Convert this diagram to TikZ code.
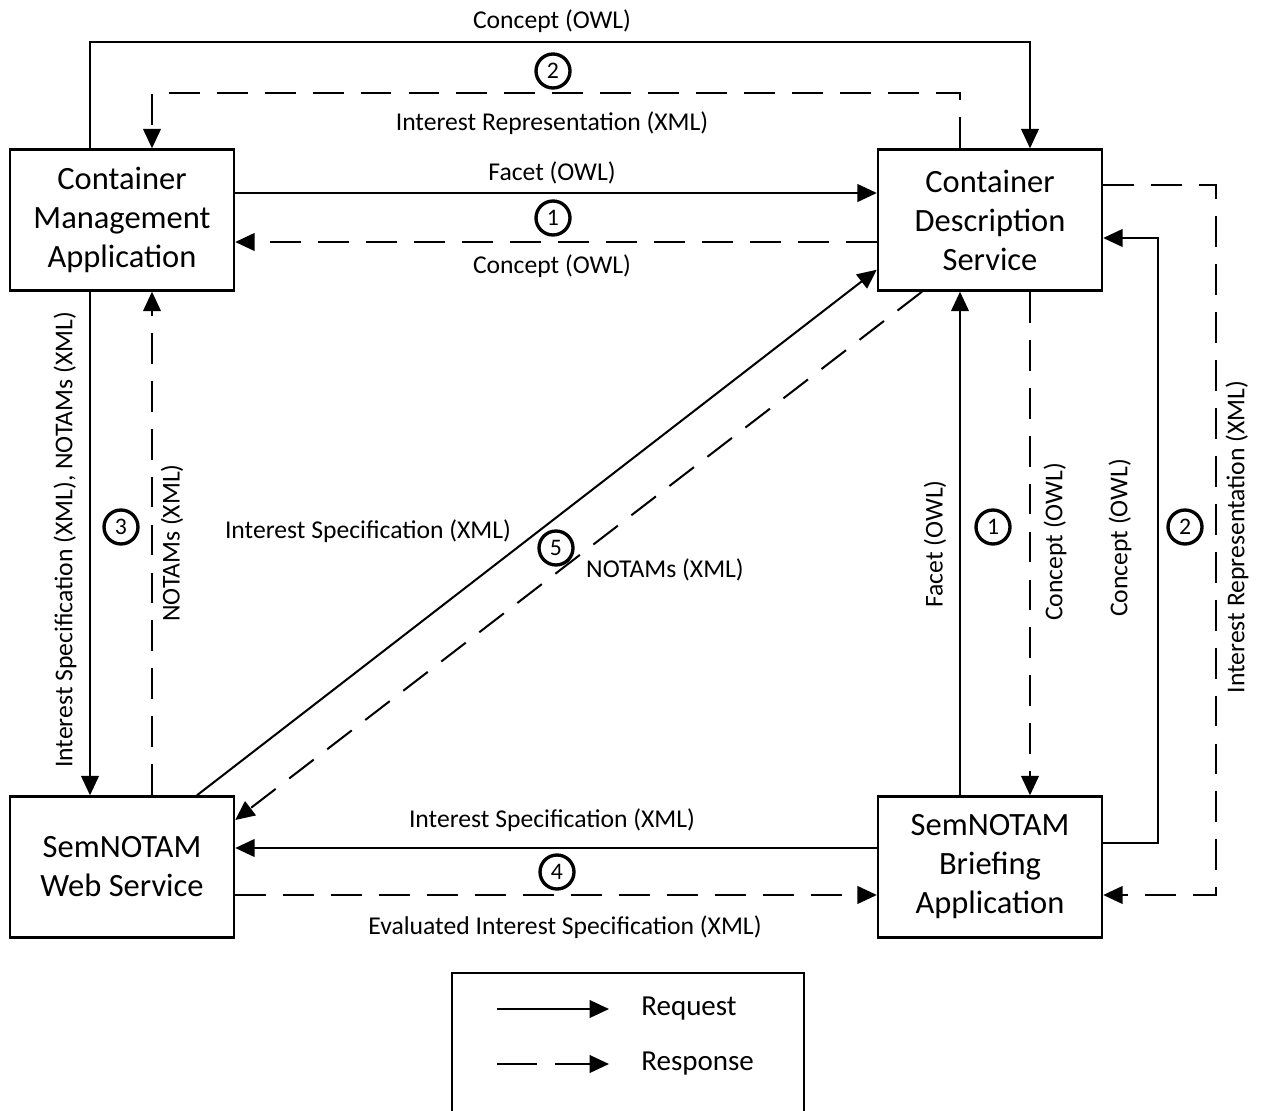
\documentclass[tikz,border=0pt]{standalone}
\usepackage{fontspec}
\setmainfont{Carlito}
\usetikzlibrary{arrows.meta}
\begin{document}
\begin{tikzpicture}[x=0.02cm,y=-0.02cm,
  box/.style={draw, line width=1.4pt, minimum width=4.48cm, minimum height=2.82cm,
    align=center, inner sep=0pt, font=\fontsize{18.5}{22.2}\selectfont},
  lbl/.style={font=\fontsize{14.6}{17}\selectfont, inner sep=1pt},
  num/.style={circle, draw, line width=1.9pt, minimum size=0.68cm, inner sep=0pt,
    fill=white, font=\fontsize{13.5}{15}\selectfont},
  req/.style={line width=1.15pt, -{Triangle[length=11pt,width=10pt]}},
  resp/.style={req, dash pattern=on 17.6pt off 9.7pt},
  legtxt/.style={font=\fontsize{16.5}{19}\selectfont, anchor=west, inner sep=0pt}]
\useasboundingbox (0,0) rectangle (1261,1111);
\node[box] (CMA) at (122,220) {Container\\Management\\Application};
\node[box] (CDS) at (990,220) {Container\\Description\\Service};
\node[box] (SWS) at (122,867) {SemNOTAM\\Web Service};
\node[box] (SBA) at (990,867) {SemNOTAM\\Briefing\\Application};

% top loop
\draw[req] ([xshift=-0.64cm]CMA.north) -- ++(0,-106) -| ([xshift=0.8cm]CDS.north);
\draw[resp] ([xshift=-0.6cm]CDS.north) -- ++(0,-55) -| ([xshift=0.6cm]CMA.north);
\node[lbl] (t1) at (552,21) {Concept (OWL)};
\node[lbl] (t2) at (552,123) {Interest Representation (XML)};
\node[num] (n2a) at (553,71) {2};

% CMA <-> CDS
\draw[req] ([yshift=0.54cm]CMA.east) -- ([yshift=0.54cm]CDS.west);
\draw[resp] ([yshift=-0.44cm]CDS.west) -- ([yshift=-0.44cm]CMA.east);
\node[lbl] (t3) at (552,173) {Facet (OWL)};
\node[lbl] (t4) at (552,266) {Concept (OWL)};
\node[num] (n1a) at (553,218) {1};

% CMA <-> SWS
\draw[req] ([xshift=-0.64cm]CMA.south) -- ([xshift=-0.64cm]SWS.north);
\draw[resp] ([xshift=0.6cm]SWS.north) -- ([xshift=0.6cm]CMA.south);
\node[lbl, rotate=90] (t5) at (65,540) {Interest Specification (XML), NOTAMs (XML)};
\node[lbl, rotate=90] (t6) at (172,543) {NOTAMs (XML)};
\node[num] (n3) at (121,527) {3};

% diagonals
\draw[req] ([xshift=1.5cm]SWS.north) -- ([yshift=0.44cm]CDS.south west);
\draw[resp] ([xshift=-1.36cm]CDS.south) -- ([yshift=0.94cm]SWS.east);
\node[lbl] (t7) at (368,531) {Interest Specification (XML)};
\node[lbl] (t8) at (665,570) {NOTAMs (XML)};
\node[num] (n5) at (556,548) {5};

% CDS <-> SBA
\draw[req] ([xshift=-0.6cm]SBA.north) -- ([xshift=-0.6cm]CDS.south);
\draw[resp] ([xshift=0.8cm]CDS.south) -- ([xshift=0.8cm]SBA.north);
\node[lbl, rotate=90] (t9) at (935,544) {Facet (OWL)};
\node[lbl, rotate=90] (t10) at (1055,542) {Concept (OWL)};
\node[num] (n1b) at (993,527) {1};

% right loops
\draw[req] ([yshift=0.48cm]SBA.east) -- ++(55,0) |- ([yshift=-0.36cm]CDS.east);
\draw[resp] ([yshift=0.7cm]CDS.east) -- ++(113,0) |- ([yshift=-0.56cm]SBA.east);
\node[lbl, rotate=90] (t11) at (1120,538) {Concept (OWL)};
\node[lbl, rotate=90] (t12) at (1237,537) {Interest Representation (XML)};
\node[num] (n2b) at (1185,527) {2};

% SBA <-> SWS
\draw[req] ([yshift=0.38cm]SBA.west) -- ([yshift=0.38cm]SWS.east);
\draw[resp] ([yshift=-0.56cm]SWS.east) -- ([yshift=-0.56cm]SBA.west);
\node[lbl] (t13) at (552,820) {Interest Specification (XML)};
\node[lbl] (t14) at (565,927) {Evaluated Interest Specification (XML)};
\node[num] (n4) at (557,872) {4};

% legend
\draw[line width=1.4pt] (452,1120) -- (452,973) -- (804,973) -- (804,1120);
\coordinate (la1) at (497,1009);
\coordinate (la2) at (609,1009);
\coordinate (lb1) at (497,1064);
\coordinate (lb2) at (609,1064);
\draw[req] (la1) -- (la2);
\draw[req, dash pattern=on 22.5pt off 10.5pt] (lb1) -- (lb2);
\node[legtxt] (lreq) at (641,1009) {Request};
\node[legtxt] (lresp) at (641,1064) {Response};
\end{tikzpicture}
\end{document}
